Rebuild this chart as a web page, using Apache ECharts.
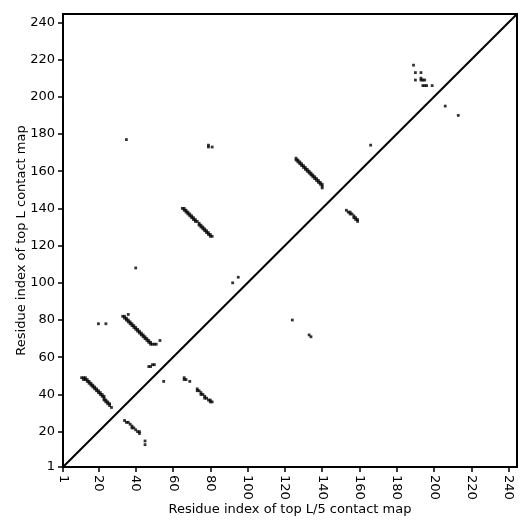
<!DOCTYPE html>
<html>
<head>
<meta charset="utf-8">
<script src="https://cdn.jsdelivr.net/npm/echarts@6.0.0/dist/echarts.min.js"></script>
<style>
  html, body { margin: 0; padding: 0; background: #fff; }
  #chart { width: 531px; height: 531px; }
</style>
</head>
<body>
<div id="chart"></div>
<script>
// 对角线以上：top L 接触图
const topLContacts = [
    [11, 49], [12, 49], [13, 49], [12, 48], [13, 48], [14, 48], [14, 47], [15, 47], [15, 46], [16, 46],
    [16, 45], [17, 45], [17, 44], [18, 44], [18, 43], [19, 43], [19, 42], [20, 42], [20, 41], [21, 41],
    [21, 40], [22, 40], [22, 39], [23, 39], [23, 38], [23, 37], [24, 37], [24, 36], [25, 36], [25, 35],
    [26, 35], [26, 34], [27, 33],
    [20, 78], [24, 78],
    [33, 82], [34, 82], [34, 81], [35, 81], [35, 80], [36, 80], [36, 79], [37, 79], [37, 78], [38, 78],
    [38, 77], [39, 77], [39, 76], [40, 76], [40, 75], [41, 75], [41, 74], [42, 74], [42, 73], [43, 73],
    [43, 72], [44, 72], [44, 71], [45, 71], [45, 70], [46, 70], [46, 69], [47, 69], [47, 68], [48, 68],
    [48, 67], [49, 67], [50, 67], [51, 67], [36, 83], [53, 69],
    [47, 55], [48, 55], [49, 56], [50, 56],
    [35, 177], [40, 108], [79, 173], [79, 174], [81, 173],
    [65, 140], [66, 140], [66, 139], [67, 139], [67, 138], [68, 138], [68, 137], [69, 137], [69, 136], [70, 136],
    [70, 135], [71, 135], [71, 134], [72, 134], [72, 133], [73, 133], [74, 132], [74, 131], [75, 131], [75, 130],
    [76, 130], [76, 129], [77, 129], [77, 128], [78, 128], [78, 127], [79, 127], [79, 126], [80, 126], [80, 125],
    [81, 125],
    [92, 100], [95, 103],
    [126, 167], [126, 166], [127, 166], [127, 165], [128, 165], [128, 164], [129, 164], [129, 163], [130, 163], [130, 162],
    [131, 162], [131, 161], [132, 161], [132, 160], [133, 160], [133, 159], [134, 159], [134, 158], [135, 158], [135, 157],
    [136, 157], [136, 156], [137, 156], [137, 155], [138, 155], [138, 154], [139, 154], [139, 153], [140, 153], [140, 152],
    [140, 151],
    [166, 174],
    [189, 217], [190, 213], [193, 213], [190, 209], [193, 210], [193, 209], [194, 209], [195, 209],
    [194, 206], [195, 206], [196, 206], [199, 206]
];

// 对角线以下：top L/5 接触图
const topL5Contacts = [
    [34, 26], [35, 25], [36, 25], [37, 24], [38, 23], [38, 22], [39, 22], [40, 21], [41, 20], [42, 19], [42, 20],
    [45, 13], [45, 15],
    [55, 47],
    [66, 49], [66, 48], [67, 48], [69, 47], [73, 43], [73, 42], [74, 42], [75, 41], [75, 40], [76, 40],
    [77, 39], [77, 38], [78, 38], [79, 37], [80, 37], [80, 36], [81, 36],
    [124, 80], [133, 72], [134, 71],
    [153, 139], [154, 138], [155, 138], [155, 137], [156, 137], [157, 136], [157, 135], [158, 135], [158, 134],
    [159, 134], [159, 133],
    [206, 195], [213, 190]
];

const tickValues = [1, 20, 40, 60, 80, 100, 120, 140, 160, 180, 200, 220, 240];
const axisMin = 1;
const axisMax = 244.5;
const diagonal = [[axisMin, axisMin], [axisMax, axisMax]];

const chart = echarts.init(document.getElementById('chart'));
const font = 'DejaVu Sans';

function makeAxis(name, isX) {
    return {
        type: 'value',
        min: axisMin,
        max: axisMax,
        name: name,
        nameLocation: 'middle',
        nameGap: isX ? 36 : 35,
        nameMoveOverlap: false,
        nameTextStyle: { color: '#000', fontSize: 13, fontFamily: font },
        splitLine: { show: false },
        axisLine: { show: true, onZero: false, lineStyle: { color: '#000', width: 2 } },
        axisTick: { show: true, inside: false, length: 5, customValues: tickValues, lineStyle: { color: '#000', width: 1.5 } },
        axisLabel: {
            customValues: tickValues, color: '#000', fontSize: 13, fontFamily: font,
            margin: 8, rotate: isX ? -90 : 0
        }
    };
}

chart.setOption({
    animation: false,
    backgroundColor: '#fff',
    grid: {
        left: 63, right: 14, top: 14, bottom: 64, outerBoundsMode: 'none',
        show: true, borderColor: '#000', borderWidth: 2, backgroundColor: 'transparent'
    },
    xAxis: makeAxis('Residue index of top L/5 contact map', true),
    yAxis: makeAxis('Residue index of top L contact map', false),
    series: [
        {
            type: 'line', data: diagonal, symbol: 'none', silent: true,
            lineStyle: { color: '#000', width: 2 }
        },
        {
            name: 'top L', type: 'scatter', data: topLContacts, symbol: 'rect', symbolSize: 2.8,
            itemStyle: { color: '#000' }, silent: true
        },
        {
            name: 'top L/5', type: 'scatter', data: topL5Contacts, symbol: 'rect', symbolSize: 2.8,
            itemStyle: { color: '#000' }, silent: true
        }
    ]
});
</script>
</body>
</html>
